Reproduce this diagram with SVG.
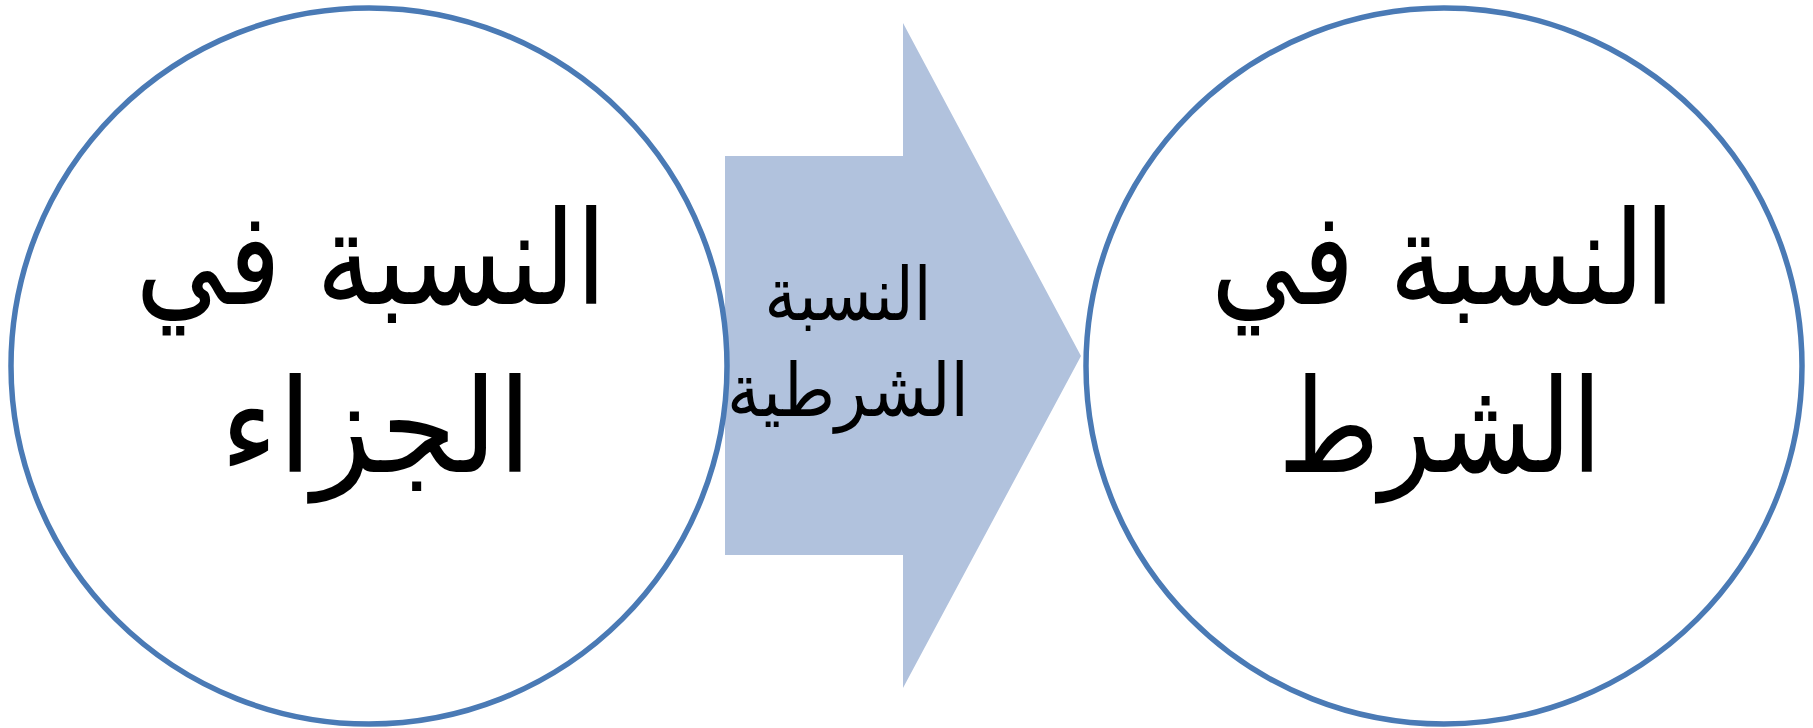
<svg xmlns="http://www.w3.org/2000/svg" width="1813" height="728" viewBox="0 0 1813 728">
<style>
.c{fill:#fff;stroke:#4A7AB5;stroke-width:5.5}
.t{font-family:"DejaVu Sans",sans-serif;fill:#000;text-anchor:middle;direction:rtl}
.big{font-size:130px}
.small{font-size:74px}
</style>
<rect width="1813" height="728" fill="#fff"/>
<g id="connectors">
<polygon id="arrow" points="725,156 903,156 903,23 1081,356 903,688 903,555 725,555" fill="#B1C2DD"/>
</g>
<g id="node-left">
<circle class="c" cx="369" cy="366" r="358"/>
<text class="t big" x="371" y="304" textLength="471" lengthAdjust="spacingAndGlyphs">النسبة في</text>
<text class="t big" x="376" y="472" textLength="312" lengthAdjust="spacingAndGlyphs">الجزاء</text>
</g>
<g id="node-arrow-label">
<text class="t small" x="848" y="320" textLength="167" lengthAdjust="spacingAndGlyphs">النسبة</text>
<text class="t small" x="848" y="416" textLength="242" lengthAdjust="spacingAndGlyphs">الشرطية</text>
</g>
<g id="node-right">
<circle class="c" cx="1444" cy="366" r="358"/>
<text class="t big" x="1443" y="304" textLength="464" lengthAdjust="spacingAndGlyphs">النسبة في</text>
<text class="t big" x="1440" y="472" textLength="324" lengthAdjust="spacingAndGlyphs">الشرط</text>
</g>
</svg>
